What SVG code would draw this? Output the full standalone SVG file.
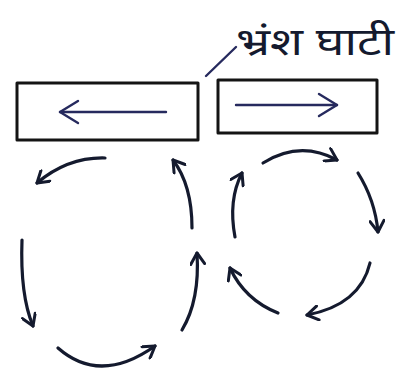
<svg xmlns="http://www.w3.org/2000/svg" width="417" height="373" viewBox="0 0 417 373">
<style>
.box{fill:none;stroke:#141414;stroke-width:3;stroke-linejoin:round}
.inner{fill:none;stroke:#262a5e;stroke-width:2.4;stroke-linecap:round}
.cur{fill:none;stroke:#141a2e;stroke-width:3.2;stroke-linecap:round}
.lbl{font-family:"Noto Sans Devanagari","Noto Sans","DejaVu Sans",sans-serif;font-size:38px;fill:#141a2e}
</style>
<defs>
<marker id="ah" markerUnits="userSpaceOnUse" markerWidth="16" markerHeight="16" viewBox="0 0 16 16" refX="13" refY="8" orient="auto">
<path d="M2,1 L13,8 L2,15" fill="none" stroke="#141a2e" stroke-width="3" stroke-linecap="round" stroke-linejoin="round"/>
</marker>
<marker id="ahb" markerUnits="userSpaceOnUse" markerWidth="24" markerHeight="26" viewBox="0 0 24 26" refX="21" refY="13" orient="auto">
<path d="M3,2 L21,13 L3,24" fill="none" stroke="#262a5e" stroke-width="2.4" stroke-linecap="round" stroke-linejoin="round"/>
</marker>
</defs>
<rect width="417" height="373" fill="#ffffff"/>
<g id="label">
<text class="lbl" x="236" y="55" textLength="158" lengthAdjust="spacingAndGlyphs">भ्रंश घाटी</text>
<path class="inner" d="M206,76 L236,47" stroke="#141a2e"/>
</g>
<g id="plate-left">
<rect class="box" x="17" y="83" width="181" height="57"/>
<path class="inner" d="M166,112 L60,112" marker-end="url(#ahb)"/>
</g>
<g id="plate-right">
<rect class="box" x="218" y="80" width="159" height="53"/>
<path class="inner" d="M236,105 L337,105" marker-end="url(#ahb)"/>
</g>
<g id="connectors">
<path class="cur" d="M105,158 Q68,157 37,183" marker-end="url(#ah)"/>
<path class="cur" d="M22,240 Q20,295 33,326" marker-end="url(#ah)"/>
<path class="cur" d="M58,348 Q100,385 155,346" marker-end="url(#ah)"/>
<path class="cur" d="M182,330 Q200,300 197,253" marker-end="url(#ah)"/>
<path class="cur" d="M192,228 Q192,185 173,160" marker-end="url(#ah)"/>
<path class="cur" d="M263,163 Q300,140 337,160" marker-end="url(#ah)"/>
<path class="cur" d="M358,173 Q375,200 378,232" marker-end="url(#ah)"/>
<path class="cur" d="M370,263 Q360,305 307,315" marker-end="url(#ah)"/>
<path class="cur" d="M278,313 Q245,300 230,268" marker-end="url(#ah)"/>
<path class="cur" d="M235,237 Q228,200 242,173" marker-end="url(#ah)"/>
</g>
</svg>
